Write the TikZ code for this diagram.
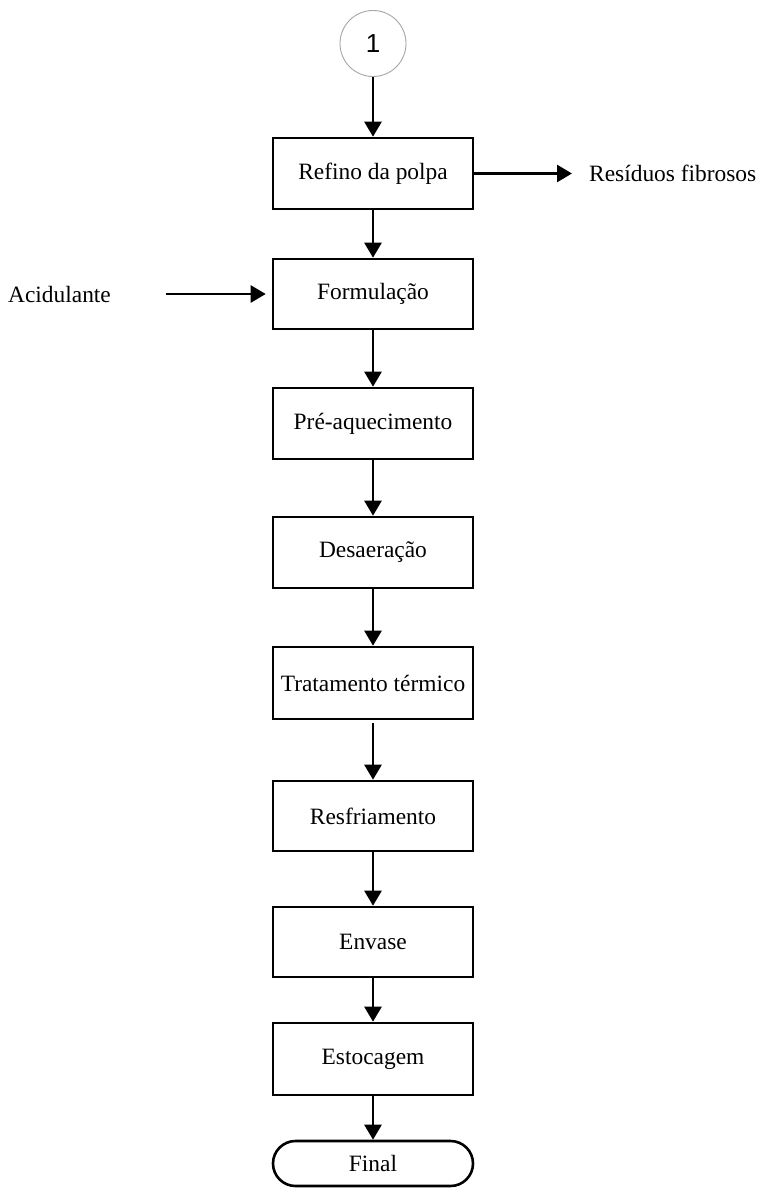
\documentclass[tikz,border=0pt]{standalone}
\usepackage{fontspec}
\setmainfont{Liberation Serif}
\newfontfamily\arialfont{Liberation Sans}
\usetikzlibrary{arrows.meta}
\begin{document}
\begin{tikzpicture}[x=1pt,y=-1pt,
  every node/.style={font=\fontsize{23.4}{26}\selectfont},
  procbox/.style={draw=black,line width=2.6pt,minimum width=200pt,minimum height=71pt,inner sep=0pt,fill=white},
  termbox/.style={draw=black,line width=2.6pt,minimum width=200pt,minimum height=45pt,inner sep=0pt,rounded corners=22.5pt},
  conn/.style={draw=gray!70,line width=0.9pt,circle,minimum size=66pt,inner sep=0pt,font=\arialfont\fontsize{26}{28}\selectfont},
  plain/.style={inner sep=0pt},
  arr/.style={line width=2.6pt,-{Triangle[length=15pt,width=17pt]}}]
\useasboundingbox (0,0) rectangle (760,1188);
\node[conn] (c1) at (373,43.5) {1};
\node[procbox] (refino) at (373,173.5) {Refino da polpa};
\node[procbox,minimum height=70pt] (form) at (373,294) {Formulação};
\node[procbox] (pre) at (373,423.5) {Pré-aquecimento};
\node[procbox] (desa) at (373,552.5) {Desaeração};
\node[procbox,minimum height=72pt] (trat) at (373,683) {Tratamento térmico};
\node[procbox,minimum height=70pt] (resf) at (373,816) {Resfriamento};
\node[procbox,minimum height=70pt] (envase) at (373,942) {Envase};
\node[procbox,minimum height=72pt] (esto) at (373,1059) {Estocagem};
\node[termbox] (final) at (373,1163.5) {Final};
\node[plain,anchor=west] (res) at (589,173.5) {Resíduos fibrosos};
\node[plain,anchor=west] (acid) at (8,294) {Acidulante};
\coordinate (acstart) at (166,294);
\draw[arr] (c1) -- (refino);
\draw[arr] (refino.east) -- ([xshift=-17pt]res.west);
\draw[arr] (refino) -- (form);
\draw[arr] (acstart) -- ([xshift=-6pt]form.west);
\draw[arr] (form) -- (pre);
\draw[arr] (pre) -- (desa);
\draw[arr] (desa) -- (trat);
\draw[arr] ([yshift=-3pt]trat.south) -- (resf);
\draw[arr] (resf) -- (envase);
\draw[arr] (envase) -- (esto);
\draw[arr] (esto) -- (final);
\end{tikzpicture}
\end{document}
